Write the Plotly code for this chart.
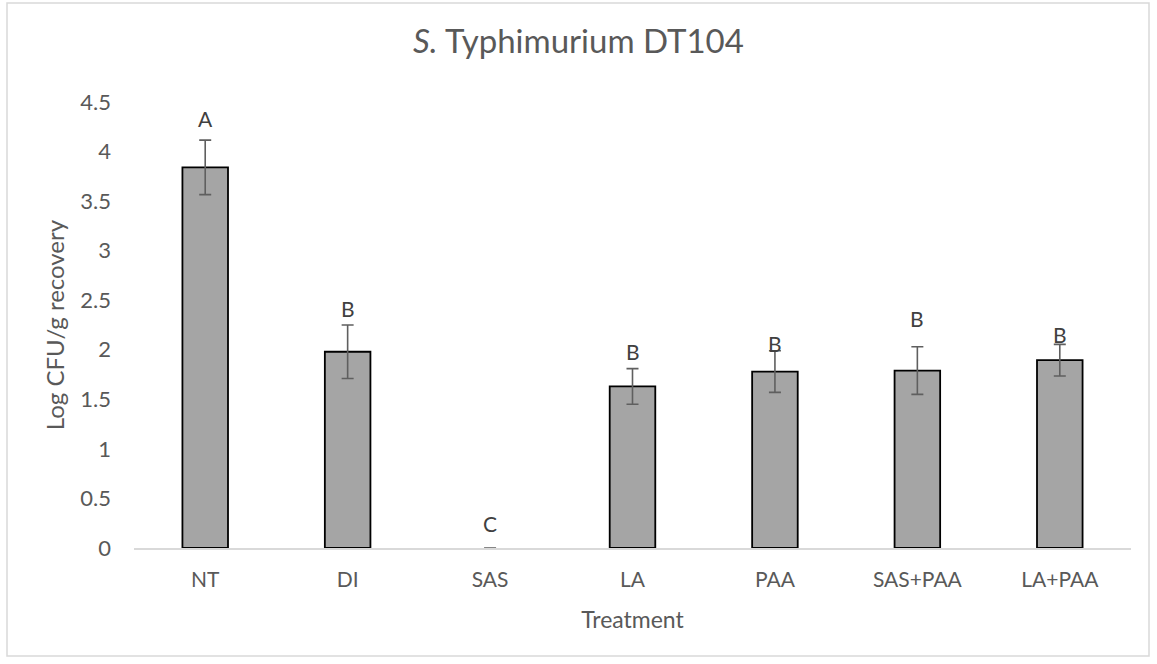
import plotly.graph_objects as go

# Mean log recovery per treatment, with standard deviation and significance letters
treatments = ["NT", "DI", "SAS", "LA", "PAA", "SAS+PAA", "LA+PAA"]
log_recovery = [3.84, 1.98, 0.0, 1.63, 1.78, 1.79, 1.895]
std_dev = [0.275, 0.27, 0.0, 0.18, 0.21, 0.24, 0.16]
sig_letters = ["A", "B", "C", "B", "B", "B", "B"]
letter_heights = [4.33, 2.42, 0.25, 1.98, 2.06, 2.32, 2.15]

FONT = "Lato"
TEXT = "#595959"

# zero-height bars get no outline, leaving only the error-bar cap on the axis
outline_colors = ["#000000" if v > 0 else "rgba(0,0,0,0)" for v in log_recovery]

fig = go.Figure()
fig.add_trace(go.Bar(
    x=treatments,
    y=log_recovery,
    marker=dict(color="#a5a5a5", line=dict(color=outline_colors, width=1.8)),
    error_y=dict(type="data", array=std_dev, visible=True,
                 color="#5f5f5f", thickness=1.6, width=6),
    width=0.32,
    showlegend=False,
    hoverinfo="x+y",
))

annotations = [
    dict(x=t, y=h, text=s, showarrow=False, xref="x", yref="y",
         font=dict(family=FONT, size=21, color="#404040"))
    for t, h, s in zip(treatments, letter_heights, sig_letters)
]

W, H = 1157, 664
L, R, T, B = 134, 26, 102, 116
pw, ph = W - L - R, H - T - B

def px_x(v):
    return (v - L) / pw

def px_y(v):
    return (H - B - v) / ph

fig.update_layout(
    width=W, height=H,
    margin=dict(l=L, r=R, t=T, b=B),
    paper_bgcolor="white", plot_bgcolor="white",
    font=dict(family=FONT, color=TEXT, size=20),
    title=dict(text="<i>S.</i> Typhimurium DT104", x=0.5, xanchor="center",
               y=1 - 41 / H, yanchor="middle",
               font=dict(family=FONT, size=33, color=TEXT)),
    xaxis=dict(
        title=dict(text="Treatment", font=dict(size=23, color=TEXT), standoff=22),
        showline=True, linecolor="#d9d9d9", linewidth=1.5,
        ticks="", tickfont=dict(size=21, color=TEXT),
        ticklabelstandoff=12,
        showgrid=False,
    ),
    yaxis=dict(
        title=dict(text="Log CFU/g recovery", font=dict(size=24, color=TEXT), standoff=8),
        range=[0, 4.5], dtick=0.5, tick0=0,
        showline=False, showgrid=False, zeroline=False,
        ticks="", tickfont=dict(size=22, color=TEXT),
        ticklabelstandoff=22,
    ),
    annotations=annotations,
    shapes=[dict(type="rect", xref="paper", yref="paper",
                 x0=px_x(7), x1=px_x(1149), y0=px_y(656), y1=px_y(3),
                 line=dict(color="#d9d9d9", width=1.5), fillcolor="rgba(0,0,0,0)",
                 layer="below")],
    bargap=0.68,
)

fig.write_html("out.html")
